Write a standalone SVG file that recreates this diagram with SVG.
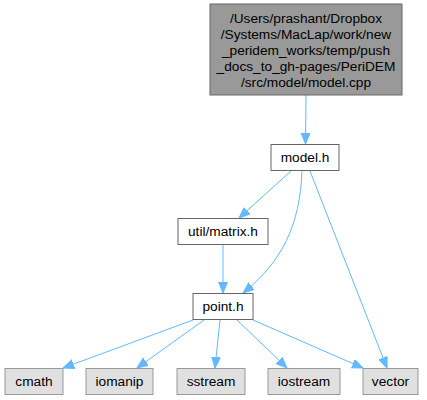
<svg xmlns="http://www.w3.org/2000/svg" width="427" height="400" viewBox="0 0 427 400">
<defs>
<style>
text{font-family:"Liberation Sans",Arial,Helvetica,sans-serif;font-size:13.7px;fill:#000;text-anchor:middle}
.main{fill:#999999;stroke:#666666;stroke-width:1}
.node{fill:#ffffff;stroke:#666666;stroke-width:1}
.sys{fill:#e0e0e0;stroke:#999999;stroke-width:1}
.edge{fill:none;stroke:#63b8ff;stroke-width:1}
</style>
<marker id="arr" markerUnits="userSpaceOnUse" markerWidth="14" markerHeight="12" refX="11" refY="4.5" orient="auto">
<path d="M0,0 L11,4.5 L0,9 z" fill="#63b8ff" stroke="#63b8ff" stroke-width="1"/>
</marker>
</defs>
<rect width="427" height="400" fill="#ffffff"/>
<g id="connectors">
<path class="edge" marker-end="url(#arr)" d="M306,95 L305.5,144"/>
<path class="edge" marker-end="url(#arr)" d="M291,171 L239,218"/>
<path class="edge" marker-end="url(#arr)" d="M302,171 C300,225 282,262 243,293"/>
<path class="edge" marker-end="url(#arr)" d="M310,171 L387,368"/>
<path class="edge" marker-end="url(#arr)" d="M223,245 L223,293"/>
<path class="edge" marker-end="url(#arr)" d="M193,320 L63,368"/>
<path class="edge" marker-end="url(#arr)" d="M204,320 L137,368"/>
<path class="edge" marker-end="url(#arr)" d="M220,320 L215,368"/>
<path class="edge" marker-end="url(#arr)" d="M237,320 L287,368"/>
<path class="edge" marker-end="url(#arr)" d="M253,320 L363,368"/>
</g>
<g id="node-model-cpp">
<rect class="main" x="210" y="4" width="192" height="91"/>
<text x="306" y="22.5">/Users/prashant/Dropbox</text>
<text x="306" y="38.5">/Systems/MacLap/work/new</text>
<text x="306" y="54.5">_peridem_works/temp/push</text>
<text x="306" y="70.5">_docs_to_gh-pages/PeriDEM</text>
<text x="306" y="86.5">/src/model/model.cpp</text>
</g>
<g id="node-model-h">
<rect class="node" x="271" y="144.5" width="68" height="26"/>
<text x="305" y="162">model.h</text>
</g>
<g id="node-matrix-h">
<rect class="node" x="178" y="218.5" width="90" height="26"/>
<text x="223" y="236">util/matrix.h</text>
</g>
<g id="node-point-h">
<rect class="node" x="193" y="293.5" width="60" height="26"/>
<text x="223" y="311">point.h</text>
</g>
<g id="node-cmath">
<rect class="sys" x="5" y="368.5" width="58" height="26"/>
<text x="34" y="386">cmath</text>
</g>
<g id="node-iomanip">
<rect class="sys" x="86" y="368.5" width="67" height="26"/>
<text x="119.5" y="386">iomanip</text>
</g>
<g id="node-sstream">
<rect class="sys" x="177" y="368.5" width="68" height="26"/>
<text x="211" y="386">sstream</text>
</g>
<g id="node-iostream">
<rect class="sys" x="268" y="368.5" width="72" height="26"/>
<text x="304" y="386">iostream</text>
</g>
<g id="node-vector">
<rect class="sys" x="363" y="368.5" width="55" height="26"/>
<text x="390.5" y="386">vector</text>
</g>
</svg>
